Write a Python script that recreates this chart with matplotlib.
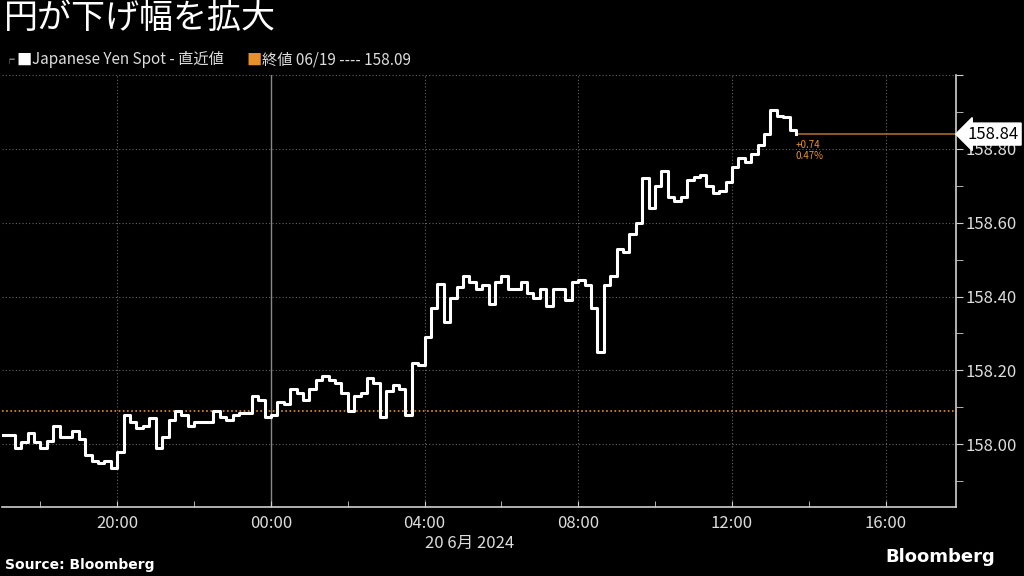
import pandas as pd
import matplotlib
matplotlib.use('Agg')
import matplotlib.pyplot as plt
import matplotlib.dates as mdates
from matplotlib.ticker import MultipleLocator

plt.rcParams['font.family'] = ['Noto Sans CJK JP', 'DejaVu Sans']

# USD/JPY spot, 10 minute steps from 19 Jun 17:00
start_time = '2024-06-19 17:00'
yen_spot = [
    158.025, 158.025, 157.99, 158.005, 158.03, 158.005, 157.99, 158.01, 158.05, 158.02,
    158.02, 158.035, 158.015, 157.97, 157.955, 157.95, 157.955, 157.935, 157.98, 158.08,
    158.06, 158.045, 158.05, 158.07, 157.99, 158.02, 158.065, 158.09, 158.08, 158.05,
    158.06, 158.06, 158.06, 158.09, 158.075, 158.065, 158.08, 158.085, 158.085, 158.13,
    158.12, 158.075, 158.08, 158.115, 158.11, 158.15, 158.14, 158.12, 158.15, 158.175,
    158.185, 158.175, 158.165, 158.14, 158.09, 158.13, 158.14, 158.18, 158.165, 158.075,
    158.145, 158.16, 158.15, 158.08, 158.22, 158.215, 158.29, 158.37, 158.435, 158.33,
    158.395, 158.425, 158.455, 158.44, 158.42, 158.43, 158.38, 158.44, 158.455, 158.42,
    158.42, 158.44, 158.41, 158.395, 158.42, 158.375, 158.42, 158.42, 158.39, 158.44,
    158.445, 158.43, 158.37, 158.25, 158.43, 158.455, 158.53, 158.52, 158.57, 158.60,
    158.72, 158.64, 158.70, 158.74, 158.67, 158.66, 158.67, 158.715, 158.725, 158.73,
    158.70, 158.68, 158.685, 158.71, 158.75, 158.775, 158.765, 158.785, 158.81, 158.84,
    158.905, 158.89, 158.885, 158.85, 158.84,
]
prev_close = 158.09
last_price = 158.84
change_txt = '+0.74'
change_pct = '0.47%'

title = '円が下げ幅を拡大'
legend_spot = 'Japanese Yen Spot - 直近値'
legend_close = '終値 06/19 ---- 158.09'
date_label = '20 6月 2024'

times = pd.date_range(start_time, periods=len(yen_spot), freq='10min')

fig = plt.figure(figsize=(10.24, 5.76), dpi=100, facecolor='black')
ax = fig.add_axes([0.002, 0.1198, 0.9316, 0.750])
ax.set_facecolor('black')

grey = '#cfcfcf'
orange = '#e8902a'

ax.plot(times, yen_spot, color='white', lw=2.2, drawstyle='steps-post', zorder=3)
ax.axhline(prev_close, color=orange, lw=1.2, ls=(0, (1, 1.5)), zorder=2)
ax.plot([times[-1], pd.Timestamp('2024-06-20 17:50')], [last_price, last_price],
        color='#a86a2a', lw=1.2, zorder=2)

ax.set_xlim(pd.Timestamp('2024-06-19 17:00'), pd.Timestamp('2024-06-20 17:50'))
ax.set_ylim(157.83, 159.0)

ax.xaxis.set_major_locator(mdates.HourLocator(byhour=[0, 4, 8, 12, 16, 20]))
ax.xaxis.set_minor_locator(mdates.HourLocator(byhour=range(0, 24, 2)))
ax.xaxis.set_major_formatter(mdates.DateFormatter('%H:%M'))
ax.yaxis.set_major_locator(MultipleLocator(0.2))
ax.yaxis.set_minor_locator(MultipleLocator(0.1))
ax.yaxis.set_major_formatter(lambda v, p: '' if v > 158.9 else f'{v:.2f}')
ax.yaxis.tick_right()

ax.tick_params(axis='x', which='both', direction='in', length=4, color=grey,
               labelcolor='#dddddd', labelsize=12, pad=6)
ax.tick_params(axis='y', which='both', direction='out', length=5, color=grey,
               labelcolor='#dddddd', labelsize=12, pad=2)

for s in ['top', 'left']:
    ax.spines[s].set_visible(False)
for s in ['bottom', 'right']:
    ax.spines[s].set_color(grey)
    ax.spines[s].set_linewidth(1.2)

ax.grid(axis='y', color='#666666', ls=(0, (1, 2)), lw=0.8)
for lbl in ax.get_xticks():
    dt = mdates.num2date(lbl)
    if dt.hour == 0:
        ax.axvline(lbl, color='#888888', lw=1.0, zorder=1)
    else:
        ax.axvline(lbl, color='#666666', ls=(0, (1, 2)), lw=0.8, zorder=1)

# last value tag and change text
ax.text(1.012, last_price, f'{last_price:.2f}', transform=ax.get_yaxis_transform(),
        color='black', fontsize=12, va='center', ha='left', zorder=5,
        bbox=dict(boxstyle='larrow,pad=0.15', fc='white', ec='white'))
ax.text(times[-1], last_price - 0.015, change_txt,
        color=orange, fontsize=7, va='top', ha='left')
ax.text(times[-1], last_price - 0.047, change_pct,
        color=orange, fontsize=7, va='top', ha='left')

fig.text(0.004, 0.968, title, color='white', fontsize=24.5, va='center', ha='left')
fig.text(0.004, 0.896, '╒', color='#aaaaaa', fontsize=7, va='center', ha='left')
fig.text(0.016, 0.896, '■', color='white', fontsize=11, va='center', ha='left')
fig.text(0.031, 0.896, legend_spot, color='#dddddd', fontsize=11, va='center', ha='left')
fig.text(0.241, 0.896, '■', color=orange, fontsize=11, va='center', ha='left')
fig.text(0.256, 0.896, legend_close, color='#dddddd', fontsize=11, va='center', ha='left')

fig.text(0.459, 0.057, date_label, color='#dddddd', fontsize=12, va='center', ha='center')
fig.text(0.005, 0.019, 'Source: Bloomberg', color='white', fontsize=10,
         fontweight='bold', va='center', ha='left', family='DejaVu Sans')
fig.text(0.972, 0.033, 'Bloomberg', color='white', fontsize=13,
         fontweight='bold', va='center', ha='right', family='DejaVu Sans')

fig.savefig('out.png', dpi=100, facecolor='black')
